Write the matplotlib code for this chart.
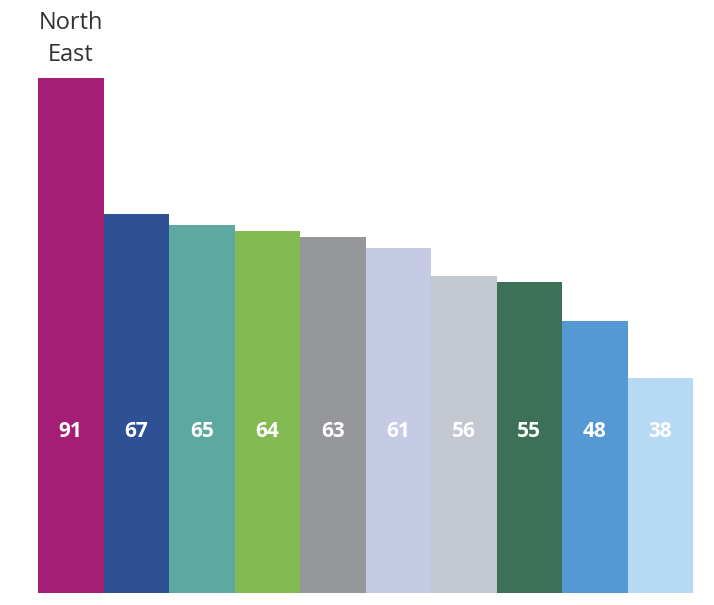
import matplotlib.pyplot as plt

values = [91, 67, 65, 64, 63, 61, 56, 55, 48, 38]
colors = ['#A51E75', '#2E5196', '#5DA8A1', '#83BB52', '#96979B',
          '#C5CAE5', '#C3C7D0', '#3C7158', '#5499D4', '#B7DAF4']
top_label = "North\nEast"

plt.rcParams['font.family'] = ['Open Sans', 'DejaVu Sans']

fig = plt.figure(figsize=(7.14, 6.05), dpi=100)
ax = fig.add_axes([38/714, 12/605, 655/714, 593/605])

x = range(len(values))
ax.bar(x, values, width=1.0, color=colors, linewidth=0)

for i, v in enumerate(values):
    ax.text(i, 28.5, str(v), ha='center', va='center', color='white',
            fontsize=15, fontweight='bold')

ax.annotate(top_label, xy=(0, values[0]), xytext=(0, 8), textcoords='offset points',
            ha='center', va='bottom', fontsize=17, color='#333333', linespacing=1.45)

ax.set_xlim(-0.5, len(values) - 0.5)
ax.set_ylim(0, 104.8)
ax.axis('off')

plt.savefig("out.png", dpi=100)
